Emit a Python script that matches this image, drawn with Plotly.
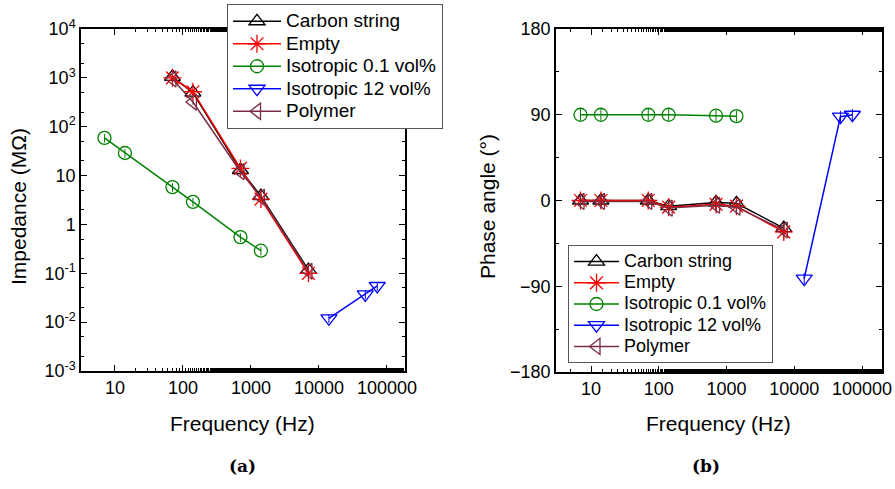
import numpy as np
import plotly.graph_objects as go

# ---- data -------------------------------------------------------------
series_names = ["Carbon string", "Empty", "Isotropic 0.1 vol%", "Isotropic 12 vol%", "Polymer"]

# impedance (MOhm) vs frequency (Hz)
f_imp_main = [70, 140, 700, 1400, 7000]
imp_carbon = [1050, 500, 13, 3.8, 0.117]
imp_empty = [1000, 520, 14, 3.3, 0.10]
imp_polymer = [950, 320, 12, 3.6, 0.11]
f_iso01 = [7, 14, 70, 140, 700, 1400]
imp_iso01 = [59, 29, 5.8, 2.9, 0.55, 0.29]
f_iso12 = [14000, 48000, 72000]
imp_iso12 = [0.012, 0.037, 0.055]

# relative scatter of impedance (percent) per series
imp_err_pct = [12, 12, 20, 20, 12]

# phase angle (deg) vs frequency (Hz)
f_phase_main = [7, 14, 70, 140, 700, 1400, 7000]
ph_carbon = [0, 0, 0, -6, -2, -3, -29]
ph_empty = [0, 0, 0, -7, -4, -6, -33]
ph_polymer = [-1, -1, -1, -8, -5, -7, -31]
ph_iso01 = [90, 90, 90, 90, 89, 88.5]
ph_iso12 = [-82, 88, 90]

# phase scatter (deg) per series
ph_err = [7, 7, 6, 6, 7]

imp_tickvals = [1e-3, 1e-2, 1e-1, 1, 10, 1e2, 1e3, 1e4]
imp_ticktext = ["10<sup>-3</sup>", "10<sup>-2</sup>", "10<sup>-1</sup>", "1", "10",
                "10<sup>2</sup>", "10<sup>3</sup>", "10<sup>4</sup>"]
freq_tickvals = [10, 100, 1000, 10000, 100000]
freq_ticktext = ["10", "100", "1000", "10000", "100000"]
phase_tickvals = [-180, -90, 0, 90, 180]

# ---- styles -----------------------------------------------------------
colors = ["#000000", "#FF0000", "#008000", "#0000FF", "#7B2D43"]
symbols = ["triangle-up-open", "asterisk-open", "circle-open", "triangle-down-open", "triangle-left-open"]
sizes = [14, 15, 13, 14, 14]
FONT = "Liberation Sans, Arial, sans-serif"


def legend_label(name, px):
    return f'<span style="font-size:{px}px">{name}</span>'


fig = go.Figure()

imp_sets = [(f_imp_main, imp_carbon), (f_imp_main, imp_empty), (f_iso01, imp_iso01),
            (f_iso12, imp_iso12), (f_imp_main, imp_polymer)]
ph_sets = [(f_phase_main, ph_carbon), (f_phase_main, ph_empty), (f_iso01, ph_iso01),
           (f_iso12, ph_iso12), (f_phase_main, ph_polymer)]

for i, name in enumerate(series_names):
    x, y = imp_sets[i]
    fig.add_trace(go.Scatter(
        x=x, y=y, name=legend_label(name, 19), mode="lines+markers", xaxis="x", yaxis="y",
        legend="legend",
        line=dict(color=colors[i], width=1.5),
        marker=dict(symbol=symbols[i], size=sizes[i], color=colors[i], line=dict(width=1.3, color=colors[i])),
        error_y=dict(type="percent", value=imp_err_pct[i], color=colors[i], thickness=1, width=0),
    ))
for i, name in enumerate(series_names):
    x, y = ph_sets[i]
    fig.add_trace(go.Scatter(
        x=x, y=y, name=legend_label(name, 18), mode="lines+markers", xaxis="x2", yaxis="y2",
        legend="legend2",
        line=dict(color=colors[i], width=1.5),
        marker=dict(symbol=symbols[i], size=sizes[i], color=colors[i], line=dict(width=1.3, color=colors[i])),
        error_y=dict(type="constant", value=ph_err[i], color=colors[i], thickness=1, width=0),
    ))

axis_common = dict(
    showline=True, linecolor="black", linewidth=1.5, mirror="ticks",
    ticks="inside", ticklen=6, tickwidth=1.2, tickcolor="black",
    showgrid=False, zeroline=False,
    tickfont=dict(family=FONT, size=18, color="black"),
)
minor_log = dict(ticks="inside", ticklen=3, tickwidth=1, tickcolor="black", showgrid=False)

fig.update_layout(
    width=895, height=489,
    margin=dict(l=0, r=0, t=0, b=0, autoexpand=False),
    paper_bgcolor="white", plot_bgcolor="white",
    font=dict(family=FONT, color="black"),
    xaxis=dict(axis_common, type="log", domain=[0.0905, 0.4525], anchor="y",
               range=[0.5, 5.265], tickvals=freq_tickvals, ticktext=freq_ticktext,
               minor=minor_log),
    yaxis=dict(axis_common, type="log", domain=[0.2413, 0.9407], anchor="x",
               range=[-3, 4], tickvals=imp_tickvals, ticktext=imp_ticktext,
               minor=minor_log),
    xaxis2=dict(axis_common, type="log", domain=[0.6212, 0.9855], anchor="y2",
                range=[0.483, 5.295], tickvals=freq_tickvals, ticktext=freq_ticktext,
                minor=minor_log),
    yaxis2=dict(axis_common, domain=[0.2393, 0.9407], anchor="x2",
                range=[-180, 180], tickvals=phase_tickvals,
                minor=dict(ticks="inside", ticklen=3, tickwidth=1, tickcolor="black", dtick=45)),
    legend=dict(x=227 / 895, y=1 - 4 / 489, xanchor="left", yanchor="top",
                bgcolor="white", bordercolor="#555555", borderwidth=1,
                font=dict(family=FONT, size=15, color="black"), itemwidth=48,
                tracegroupgap=0),
    legend2=dict(x=568 / 895, y=1 - 245 / 489, xanchor="left", yanchor="top",
                 bgcolor="white", bordercolor="#555555", borderwidth=1,
                 font=dict(family=FONT, size=14, color="black"), itemwidth=45,
                 tracegroupgap=0),
    showlegend=True,
)

annotations = [
    dict(text="Impedance (M\u03a9)", x=18 / 895, y=1 - 207 / 489, textangle=-90, font=dict(size=21)),
    dict(text="Phase angle (\u00b0)", x=487 / 895, y=1 - 207 / 489, textangle=-90, font=dict(size=21)),
    dict(text="Frequency (Hz)", x=242 / 895, y=1 - 423 / 489, font=dict(size=21)),
    dict(text="Frequency (Hz)", x=718 / 895, y=1 - 423 / 489, font=dict(size=21)),
    dict(text="<b>(a)</b>", x=242 / 895, y=1 - 466 / 489,
         font=dict(family="DejaVu Serif, Liberation Serif, serif", size=17)),
    dict(text="<b>(b)</b>", x=706 / 895, y=1 - 466 / 489,
         font=dict(family="DejaVu Serif, Liberation Serif, serif", size=17)),
]
for a in annotations:
    fig.add_annotation(xref="paper", yref="paper", showarrow=False,
                       xanchor="center", yanchor="middle", **a)

fig.write_html("out.html")
